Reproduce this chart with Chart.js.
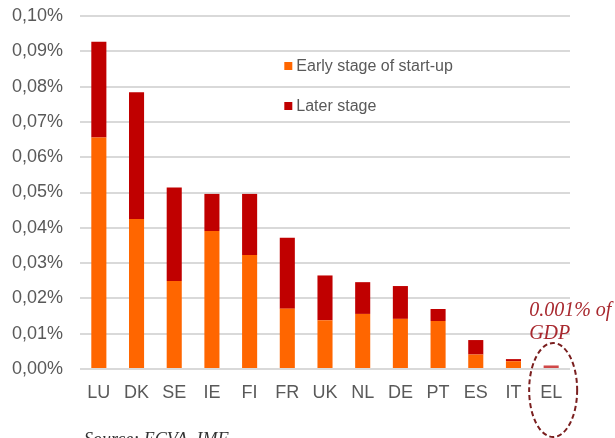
<!DOCTYPE html>
<html>
<head>
<meta charset="utf-8">
<script src="https://cdn.jsdelivr.net/npm/chart.js@4.4.1/dist/chart.umd.min.js"></script>
<style>
html,body{margin:0;padding:0;background:#fff;}
#wrap{width:615px;height:438px;position:relative;}
</style>
</head>
<body>
<div id="wrap"><canvas id="c" width="615" height="438"></canvas></div>
<script>
const categories = ['LU','DK','SE','IE','FI','FR','UK','NL','DE','PT','ES','IT','EL'];
const earlyStage = [0.0656,0.0425,0.0249,0.0391,0.0323,0.0171,0.0138,0.0156,0.0142,0.0136,0.0041,0.0022,0];
const laterStage = [0.0271,0.0359,0.0265,0.0105,0.0173,0.0201,0.0127,0.0090,0.0093,0.0034,0.0041,0.0006,0.001];
const seriesNames = ['Early stage of start-up','Later stage'];
const annotationLines = ['0.001% of','GDP'];
const sourceText = 'Source: ECVA, IMF';

const laterColors = categories.map(c => c === 'EL' ? '#d04848' : '#c00000');

const extras = {
  id: 'extras',
  afterDraw(chart) {
    const ctx = chart.ctx;
    const xs = chart.scales.x;
    const area = chart.chartArea;
    ctx.save();
    // legend inside plot
    ctx.font = '16px "Liberation Sans", Arial, sans-serif';
    ctx.textBaseline = 'middle';
    const legX = xs.getPixelForValue(5) - 3;
    const legY = [66, 106];
    const legColors = ['#ff6600', '#c00000'];
    chart.data.datasets.forEach((ds, i) => {
      ctx.fillStyle = legColors[i];
      ctx.fillRect(legX, legY[i] - 4, 8, 8);
      ctx.fillStyle = '#595959';
      ctx.fillText(ds.label, legX + 12, legY[i] + 1);
    });
    // annotation for EL
    const elX = xs.getPixelForValue(categories.length - 1);
    ctx.fillStyle = '#a8282e';
    ctx.font = 'italic 20px "Liberation Serif", Georgia, serif';
    ctx.textBaseline = 'alphabetic';
    ctx.textAlign = 'left';
    ctx.fillText(annotationLines[0], elX - 22, 316);
    ctx.fillText(annotationLines[1], elX - 22, 339);
    // dashed ellipse
    ctx.strokeStyle = '#7a1f1f';
    ctx.lineWidth = 2;
    ctx.setLineDash([5, 3]);
    ctx.beginPath();
    ctx.ellipse(elX + 2, area.bottom + 21, 24, 47, 0, 0, Math.PI * 2);
    ctx.stroke();
    ctx.setLineDash([]);
    // source
    ctx.fillStyle = '#333';
    ctx.font = 'italic 18px "Liberation Serif", Georgia, serif';
    ctx.textBaseline = 'top';
    ctx.fillText(sourceText, 84, 431);
    ctx.restore();
  }
};

new Chart(document.getElementById('c'), {
  type: 'bar',
  data: {
    labels: categories,
    datasets: [
      { label: seriesNames[0], data: earlyStage, backgroundColor: '#ff6600', barPercentage: 0.4, categoryPercentage: 1.0 },
      { label: seriesNames[1], data: laterStage, backgroundColor: laterColors, barPercentage: 0.4, categoryPercentage: 1.0, minBarLength: 2 }
    ]
  },
  options: {
    responsive: false,
    animation: false,
    layout: { padding: { top: 16, right: 45, bottom: 0, left: 0 } },
    plugins: { legend: { display: false }, tooltip: { enabled: false } },
    scales: {
      x: {
        stacked: true,
        grid: { display: false, drawTicks: false },
        border: { display: false },
        ticks: { color: '#595959', font: { family: '"Liberation Sans", Arial, sans-serif', size: 18 }, padding: 13, maxRotation: 0 },
        afterFit(s) { s.height = 69; s.paddingLeft = 0; s.paddingRight = 0; }
      },
      y: {
        stacked: true,
        min: 0, max: 0.1,
        grid: { color: '#d9d9d9', lineWidth: 2, drawTicks: false },
        border: { display: false },
        ticks: {
          stepSize: 0.01,
          color: '#595959',
          font: { family: '"Liberation Sans", Arial, sans-serif', size: 18 },
          padding: 17,
          callback: v => v.toFixed(2).replace('.', ',') + '%'
        },
        afterFit(s) { s.width = 80; s.paddingTop = 0; s.paddingBottom = 0; }
      }
    }
  },
  plugins: [extras]
});
</script>
</body>
</html>
